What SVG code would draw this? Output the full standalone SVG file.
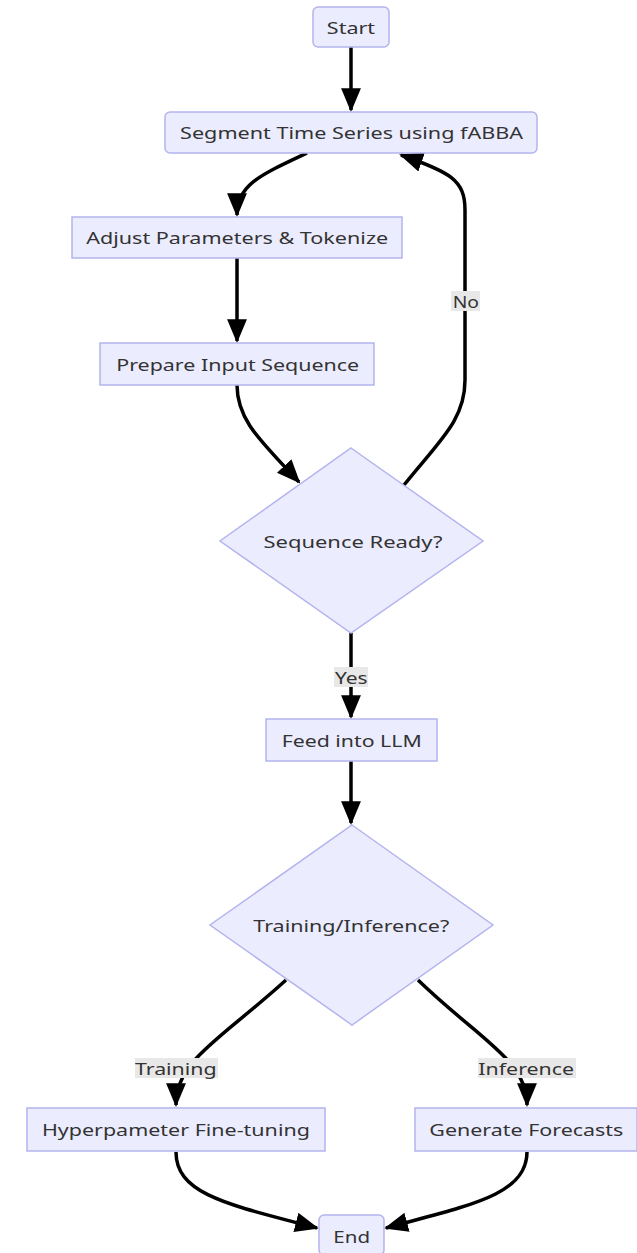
<svg xmlns="http://www.w3.org/2000/svg" width="637" height="1253" viewBox="0 0 637 1253">
<style>
.n{fill:#ECECFF;stroke:#B4B4EE;stroke-width:1.5}
.t{font-family:"Noto Sans","Open Sans",sans-serif;font-size:17px;fill:#333;text-anchor:middle;dominant-baseline:central}
.e{fill:none;stroke:#000;stroke-width:3.5}
.lb{fill:#E8E8E8}
</style>
<defs>
<marker id="ah" viewBox="0 0 12 10" refX="11" refY="5" markerWidth="6.8" markerHeight="6" markerUnits="strokeWidth" orient="auto">
<path d="M0,0 L12,5 L0,10 Z" fill="#000"/>
</marker>
</defs>
<rect width="637" height="1253" fill="#fff"/>
<g id="edges">
<path class="e" d="M351,47 L351,110" marker-end="url(#ah)"/>
<path class="e" d="M307,153 C260,175 237,185 237,215" marker-end="url(#ah)"/>
<path class="e" d="M237,258 L237,341" marker-end="url(#ah)"/>
<path class="e" d="M237,385 C237,420 260,440 299,482" marker-end="url(#ah)"/>
<path class="e" d="M404,485 C440,440 465,420 465,380 L465,210 C465,180 450,172 401,155" marker-end="url(#ah)"/>
<path class="e" d="M351,633 L351,717" marker-end="url(#ah)"/>
<path class="e" d="M351,761 L351,823" marker-end="url(#ah)"/>
<path class="e" d="M286,980 C220,1040 176,1060 176,1105" marker-end="url(#ah)"/>
<path class="e" d="M418,980 C480,1040 527,1060 527,1105" marker-end="url(#ah)"/>
<path class="e" d="M176,1152 C176,1195 230,1205 317,1228" marker-end="url(#ah)"/>
<path class="e" d="M527,1152 C527,1195 470,1205 386,1228" marker-end="url(#ah)"/>
</g>
<g id="edge-labels">
<rect class="lb" x="451" y="291" width="29" height="20"/><text class="t" x="465.8" y="301" textLength="26.3" lengthAdjust="spacingAndGlyphs">No</text>
<rect class="lb" x="334" y="667" width="34" height="20"/><text class="t" x="351.3" y="677" textLength="32.7" lengthAdjust="spacingAndGlyphs">Yes</text>
<rect class="lb" x="135" y="1058" width="83" height="20"/><text class="t" x="175.8" y="1068" textLength="81.7" lengthAdjust="spacingAndGlyphs">Training</text>
<rect class="lb" x="478" y="1058" width="98" height="20"/><text class="t" x="526.2" y="1068" textLength="95.7" lengthAdjust="spacingAndGlyphs">Inference</text>
</g>
<g id="start"><rect class="n" x="313" y="7" width="76" height="40" rx="5"/><text class="t" x="351" y="27" textLength="48.3" lengthAdjust="spacingAndGlyphs">Start</text></g>
<g id="segment"><rect class="n" x="165" y="112" width="372" height="41" rx="5"/><text class="t" x="351.6" y="132.5" textLength="343" lengthAdjust="spacingAndGlyphs">Segment Time Series using fABBA</text></g>
<g id="adjust"><rect class="n" x="72" y="217" width="330" height="41"/><text class="t" x="237.2" y="237" textLength="302" lengthAdjust="spacingAndGlyphs">Adjust Parameters &amp; Tokenize</text></g>
<g id="prepare"><rect class="n" x="100" y="343" width="274" height="42"/><text class="t" x="237.7" y="364" textLength="243" lengthAdjust="spacingAndGlyphs">Prepare Input Sequence</text></g>
<g id="ready"><polygon class="n" points="351,448 483,541 351,633 220,541"/><text class="t" x="353" y="541" textLength="179" lengthAdjust="spacingAndGlyphs">Sequence Ready?</text></g>
<g id="feed"><rect class="n" x="266" y="719" width="171" height="42"/><text class="t" x="351.7" y="740" textLength="140" lengthAdjust="spacingAndGlyphs">Feed into LLM</text></g>
<g id="mode"><polygon class="n" points="352,825 493,925 352,1025 210,925"/><text class="t" x="351.3" y="925" textLength="196" lengthAdjust="spacingAndGlyphs">Training/Inference?</text></g>
<g id="hyper"><rect class="n" x="27" y="1108" width="298" height="43"/><text class="t" x="175.9" y="1129.5" textLength="268" lengthAdjust="spacingAndGlyphs">Hyperpameter Fine-tuning</text></g>
<g id="generate"><rect class="n" x="415" y="1108" width="222" height="43"/><text class="t" x="526.3" y="1129.5" textLength="194" lengthAdjust="spacingAndGlyphs">Generate Forecasts</text></g>
<g id="end"><rect class="n" x="319" y="1215" width="65" height="40" rx="5"/><text class="t" x="351.7" y="1236" textLength="36.7" lengthAdjust="spacingAndGlyphs">End</text></g>
</svg>
